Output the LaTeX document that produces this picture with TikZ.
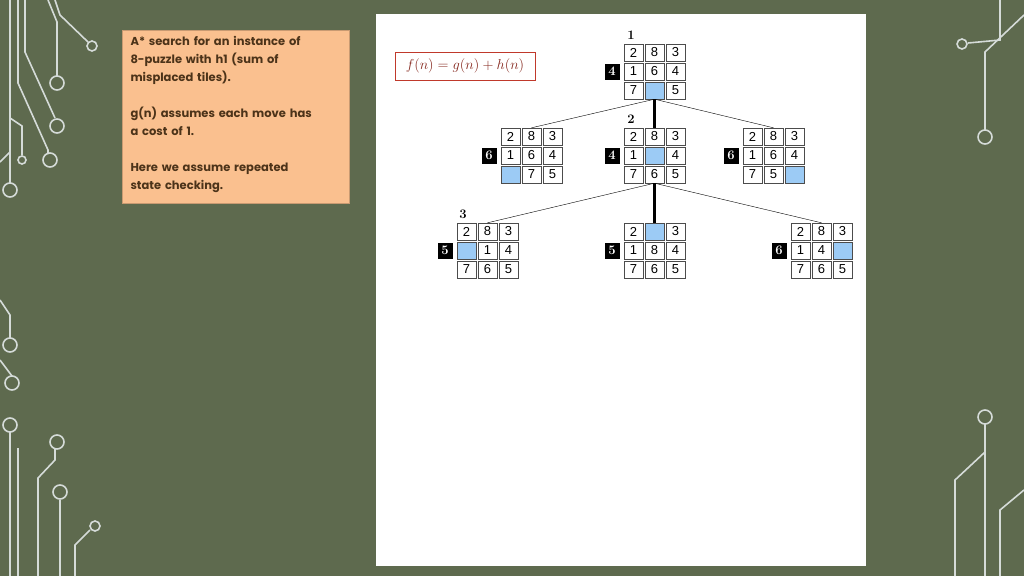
\documentclass[tikz,border=0pt]{standalone}
\usepackage{fontspec}
\newfontfamily\boxfont{Poppins}
\newfontfamily\tilefont{Liberation Sans}
\usetikzlibrary{positioning}
\definecolor{bgolive}{HTML}{5E6A4E}
\definecolor{wire}{HTML}{D5DBD8}
\definecolor{peach}{HTML}{FAC08F}
\definecolor{blank}{HTML}{9CCBF5}
\definecolor{fred}{HTML}{C0392B}
\tikzset{
  cell/.style={draw=black!70,fill=white,minimum width=19pt,minimum height=17pt,inner sep=0pt,font=\tilefont\fontsize{13}{13}\selectfont},
  gap/.style={cell,fill=blank},
  score/.style={fill=black,text=white,minimum width=15pt,minimum height=16pt,inner sep=0pt,font=\bfseries\fontsize{13}{13}\selectfont},
  stepnum/.style={font=\bfseries\fontsize{13}{13}\selectfont},
  wirel/.style={wire,line width=1.6pt},
}
% board: name, x, y (top left), list of nine tiles (0 = blank), score
\newcommand\board[5]{%
  \foreach \t [count=\i from 0] in {#4}{%
    \pgfmathtruncatemacro\cc{mod(\i,3)}%
    \pgfmathtruncatemacro\rr{div(\i,3)}%
    \ifnum\t=0
      \node[gap] (#1-\i) at ({#2+10.5+21*\cc},{#3+9.5+19*\rr}) {};
    \else
      \node[cell] (#1-\i) at ({#2+10.5+21*\cc},{#3+9.5+19*\rr}) {\t};
    \fi}
  \node[score] (#1-s) at ({#2-11},{#3+28.5}) {#5};}
\begin{document}
\begin{tikzpicture}[x=1pt,y=-1pt]
\fill[bgolive] (0,0) rectangle (1024,576);
\useasboundingbox (0,0) rectangle (1024,576);
% circuit wires
\draw[wirel] (10,0) -- (10,183); \draw[wirel] (10,190) circle (7);
\draw[wirel] (18,0) -- (18,83) -- (48,150) -- (48,154); \draw[wirel] (50,160) circle (7);
\draw[wirel] (25,0) -- (25,52) -- (55,118); \draw[wirel] (57,126) circle (7);
\draw[wirel] (48,0) -- (57,22) -- (57,76); \draw[wirel] (57,83) circle (7);
\draw[wirel] (55,0) -- (60,15) -- (88,42); \draw[wirel] (92,46) circle (5);
\draw[wirel] (10,118) -- (22,126) -- (22,155); \draw[wirel] (22,160) circle (4);
\draw[wirel] (0,162) -- (10,152);
\draw[wirel] (1000,0) -- (1000,40) -- (968,43); \draw[wirel] (962,44) circle (5);
\draw[wirel] (1024,15) -- (985,52) -- (985,130); \draw[wirel] (985,137) circle (7);
\draw[wirel] (0,300) -- (10,315) -- (10,338); \draw[wirel] (10,345) circle (7);
\draw[wirel] (0,360) -- (12,376); \draw[wirel] (12,383) circle (7);
\draw[wirel] (10,432) -- (10,576); \draw[wirel] (10,425) circle (7);
\draw[wirel] (18,448) -- (18,576);
\draw[wirel] (38,576) -- (38,478) -- (55,460) -- (55,449); \draw[wirel] (57,442) circle (7);
\draw[wirel] (60,576) -- (60,500); \draw[wirel] (60,492) circle (7);
\draw[wirel] (75,576) -- (75,545) -- (90,530); \draw[wirel] (95,526) circle (5);
\draw[wirel] (985,576) -- (985,424); \draw[wirel] (985,417) circle (7);
\draw[wirel] (1000,576) -- (1000,510) -- (1024,490);
\draw[wirel] (955,576) -- (955,480) -- (985,452);
% panels
\fill[white] (376,14) rectangle (866,566);
\node[draw=peach!80!black,fill=peach,minimum width=227pt,minimum height=173pt,anchor=north west] (note) at (122,30) {};
\node[anchor=north west,align=left,text width=212pt,font=\boxfont\bfseries\fontsize{11.5}{18}\selectfont,text=black!60!brown] (notetext) at (127,33)
  {\raggedright A* search for an instance of\\ 8-puzzle with h1 (sum of\\ misplaced tiles).\\[18pt]
   g(n) assumes each move has\\ a cost of 1.\\[18pt]
   Here we assume repeated\\ state checking.};
\node[draw=fred,minimum width=140pt,minimum height=28pt,text=fred!70!black,font=\fontsize{15}{15}\selectfont] (fbox) at (465,66) {$f(n)=g(n)+h(n)$};
% boards
\board{top}{623}{43}{2,8,3,1,6,4,7,0,5}{4}
\board{dl}{500}{127}{2,8,3,1,6,4,0,7,5}{6}
\board{dm}{623}{127}{2,8,3,1,0,4,7,6,5}{4}
\board{dr}{742}{127}{2,8,3,1,6,4,7,5,0}{6}
\board{el}{456}{222}{2,8,3,0,1,4,7,6,5}{5}
\board{em}{623}{222}{2,0,3,1,8,4,7,6,5}{5}
\board{er}{790}{222}{2,8,3,1,4,0,7,6,5}{6}
\node[stepnum] (n1) at (631,35) {1};
\node[stepnum] (n2) at (631,119) {2};
\node[stepnum] (n3) at (463,214) {3};
% tree edges
\draw (top-7.south) -- (dl-1.north);
\draw[line width=3pt] (top-7.south) -- (dm-1.north);
\draw (top-7.south) -- (dr-1.north);
\draw (dm-7.south) -- (el-1.north);
\draw[line width=3pt] (dm-7.south) -- (em-1.north);
\draw (dm-7.south) -- (er-1.north);
\end{tikzpicture}
\end{document}
